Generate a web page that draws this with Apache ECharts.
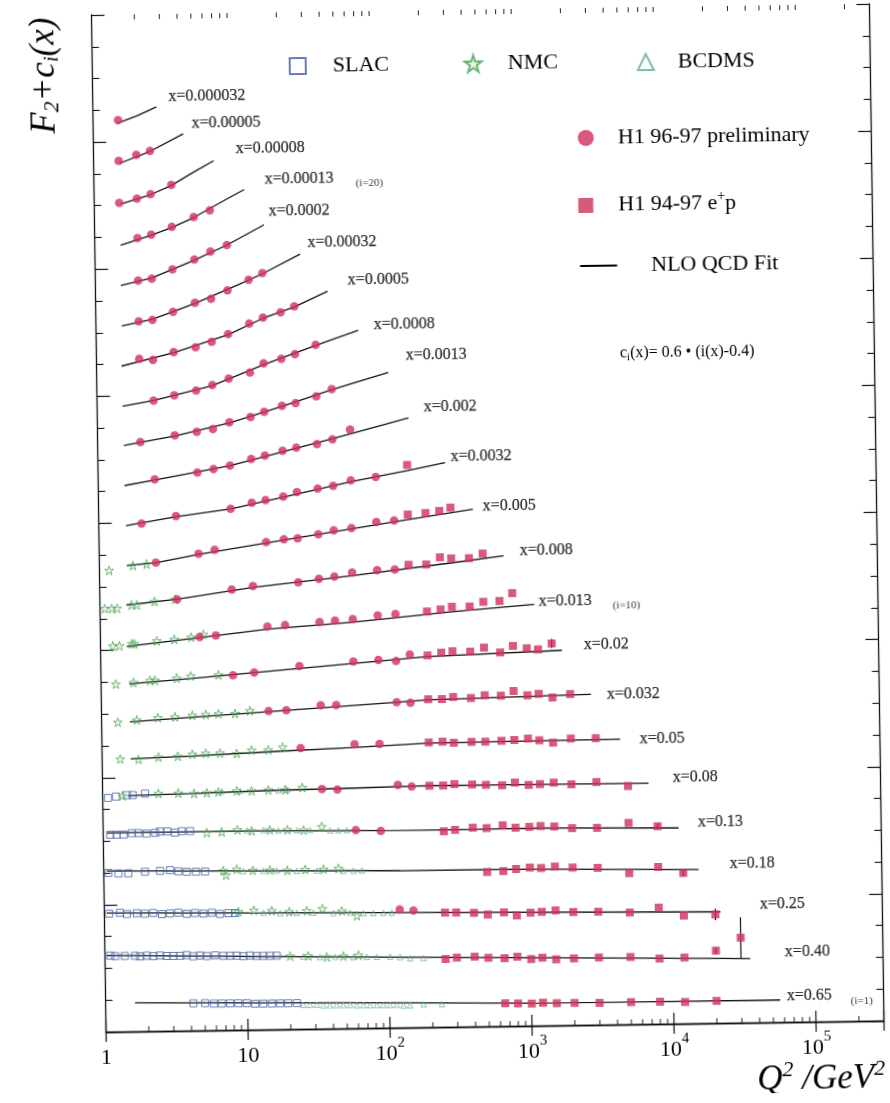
<!DOCTYPE html>
<html><head><meta charset="utf-8">
<script src="https://cdn.jsdelivr.net/npm/echarts@6/dist/echarts.min.js"></script>
<style>
html,body{margin:0;padding:0;background:#fff;overflow:hidden;}
#chart{position:absolute;left:0;top:0;width:890px;height:1103px;transform:rotate(-0.82deg);transform-origin:91.5px 15px;}
</style></head>
<body><div id="chart"></div>
<script>
// bins i = 1..23 (bottom to top)
const binX = ['0.65','0.40','0.25','0.18','0.13','0.08','0.05','0.032','0.02','0.013','0.008','0.005','0.0032','0.002','0.0013','0.0008','0.0005','0.00032','0.0002','0.00013','0.00008','0.00005','0.000032'];
const binLabelAnchor = [[62000,0.41],[60640,1.11],[40850,1.86],[25350,2.51],[15240,3.17],[10260,3.88],[6065,4.49],[3590,5.19],[2500,5.98],[1217,6.68],[905,7.48],[502,8.18],[302,8.97],[197,9.76],[149,10.58],[89.4,11.07],[59.3,11.77],[31.2,12.37],[16.7,12.88],[15.8,13.38],[9.94,13.86],[4.9,14.27],[3.39,14.69]];
const extraLabels = ['(i=1)','(i=10)','(i=20)'];
const extraLabelAnchor = [[174600,0.32],[4035,6.59],[69,13.30]];
const xMajorTicks = [1,10,100,1000,10000,100000];
const xTickText = ['1','10','10{s|2}','10{s|3}','10{s|4}','10{s|5}'];
const xMinorTicks = [2,3,4,5,6,7,8,9,20,30,40,50,60,70,80,90,200,300,400,500,600,700,800,900,2000,3000,4000,5000,6000,7000,8000,9000,20000,30000,40000,50000,60000,70000,80000,90000,200000];

// NLO QCD fit curves: [i, Q2, F2+c_i]
const nloFit = [
[23,1.48,14.29],[23,2.03,14.40],[23,2.8,14.54],
[22,1.52,13.66],[22,2.5,13.84],[22,4.3,14.11],
[21,1.54,13.02],[21,2.5,13.16],[21,3.5,13.30],[21,5,13.50],[21,7,13.68],
[20,1.52,12.37],[20,2.5,12.52],[20,3.5,12.64],[20,5,12.79],[20,8.5,13.07],[20,11.4,13.22],
[19,1.51,11.74],[19,2.5,11.85],[19,5,12.12],[19,8.5,12.35],[19,15.6,12.66],
[18,1.52,11.10],[18,2.5,11.20],[18,5,11.44],[18,10,11.72],[18,15,11.89],[18,27.8,12.19],
[17,1.5,10.47],[17,3.5,10.67],[17,8.5,10.94],[17,15,11.19],[17,25,11.36],[17,43,11.60],
[16,1.51,9.84],[16,2.5,9.92],[16,6.5,10.14],[16,15,10.46],[16,35,10.75],[16,70,10.98],
[15,1.53,9.22],[15,3.5,9.36],[15,8.5,9.55],[15,20,9.80],[15,45,10.05],[15,113,10.31],
[14,1.53,8.59],[14,2.5,8.67],[14,8.5,8.88],[14,25,9.14],[14,60,9.35],[14,155,9.59],
[13,1.55,7.96],[13,3.5,8.09],[13,8.5,8.20],[13,20,8.37],[13,60,8.60],[13,150,8.76],[13,278,8.88],
[12,1.56,7.33],[12,2.5,7.37],[12,5,7.49],[12,25,7.73],[12,120,7.96],[12,431,8.14],
[11,1.54,6.71],[11,3.5,6.79],[11,12,6.96],[11,60,7.12],[11,300,7.30],[11,701,7.40],
[10,1.53,6.06],[10,5,6.18],[10,15,6.30],[10,60,6.39],[10,300,6.53],[10,1140,6.63],
[9,1.58,5.47],[9,4.3,5.54],[9,12,5.62],[9,60,5.74],[9,200,5.83],[9,1767,5.90],
[8,1.58,4.87],[8,4.4,4.93],[8,15,5.00],[8,60,5.08],[8,200,5.15],[8,2800,5.20],
[7,1.59,4.29],[7,4.4,4.32],[7,15,4.37],[7,60,4.42],[7,200,4.47],[7,4455,4.49],
[6,1.5,3.71],[6,4.4,3.73],[6,15,3.76],[6,60,3.78],[6,200,3.80],[6,6980,3.79],
[5,1.06,3.13],[5,10.8,3.13],[5,89,3.105],[5,235,3.10],[5,1192,3.11],[5,11240,3.08],
[4,1.05,2.53],[4,10.7,2.50],[4,122,2.47],[4,1000,2.465],[4,15400,2.42],
[3,1.04,1.87],[3,10.6,1.84],[3,121,1.81],[3,21700,1.75],
[2,1.03,1.20],[2,23.6,1.14],[2,605,1.08],[2,34800,1.01],
[1,1.61,0.45],[1,118,0.39],[1,1000,0.355],[1,56100,0.35]
];

// H1 96-97 preliminary: [i, Q2, value]
const h1Prelim = [
[23,1.5,14.34],
[22,1.5,13.70],[22,2,13.79],[22,2.5,13.85],
[21,1.5,13.04],[21,2,13.10],[21,2.5,13.17],[21,3.5,13.31],
[20,2,12.48],[20,2.5,12.53],[20,3.5,12.65],[20,5,12.80],[20,6.5,12.90],
[19,2,11.81],[19,2.5,11.84],[19,3.5,11.98],[19,5,12.13],[19,6.5,12.25],[19,8.5,12.35],
[18,2,11.17],[18,2.5,11.19],[18,3.5,11.31],[18,5,11.45],[18,6.5,11.51],[18,8.5,11.64],[18,12,11.80],[18,15,11.90],
[17,2,10.58],[17,2.5,10.56],[17,3.5,10.68],[17,5,10.75],[17,6.5,10.83],[17,8.5,10.95],[17,12,11.11],[17,15,11.20],[17,20,11.28],[17,25,11.37],
[16,2.5,9.92],[16,3.5,10.00],[16,5,10.07],[16,6.5,10.15],[16,8.5,10.25],[16,12,10.34],[16,15,10.48],[16,20,10.55],[16,25,10.62],[16,35,10.76],
[15,2,9.27],[15,3.5,9.37],[15,5,9.42],[15,6.5,9.46],[15,8.5,9.56],[15,12,9.64],[15,15,9.72],[15,20,9.81],[15,25,9.85],[15,35,9.95],[15,45,10.06],
[14,2.5,8.68],[14,5,8.78],[14,6.5,8.83],[14,8.5,8.88],[14,12,8.98],[14,15,9.03],[14,20,9.10],[14,25,9.15],[14,35,9.20],[14,45,9.27],[14,60,9.42],
[13,2,7.99],[13,3.5,8.10],[13,8.5,8.20],[13,12,8.29],[13,15,8.33],[13,20,8.38],[13,25,8.45],[13,35,8.50],[13,45,8.54],[13,60,8.62],[13,90,8.67],
[12,2.5,7.37],[12,5,7.50],[12,6.5,7.56],[12,15,7.67],[12,20,7.71],[12,25,7.72],[12,35,7.78],[12,45,7.84],[12,60,7.87],[12,90,7.96],[12,120,7.98],
[11,3.5,6.79],[11,8.5,6.93],[11,12,6.98],[11,25,7.03],[11,35,7.08],[11,45,7.11],[11,60,7.17],[11,90,7.20],[11,120,7.21],
[10,5,6.19],[10,6.5,6.21],[10,15,6.34],[10,20,6.36],[10,35,6.40],[10,45,6.42],[10,60,6.44],[10,90,6.49],[10,120,6.51],
[9,8.5,5.58],[9,12,5.62],[9,25,5.71],[9,60,5.77],[9,90,5.79],[9,120,5.77],[9,150,5.87],
[8,15,5.01],[8,20,5.02],[8,35,5.09],[8,45,5.09],[8,120,5.12],[8,150,5.11],
[7,25,4.42],[7,60,4.47],[7,90,4.47],
[6,35,3.77],[6,45,3.76],[6,120,3.82],[6,150,3.79],
[5,60,3.12],[5,90,3.10],
[3,120,1.86],[3,150,1.84]
];

// H1 94-97 e+p: [i, Q2, value]
const h1Ep = [
[13,150,8.85],
[12,150,8.07],[12,200,8.09],[12,250,8.12],[12,300,8.17],
[11,150,7.28],[11,200,7.28],[11,250,7.39],[11,300,7.37],[11,400,7.37],[11,500,7.44],
[10,200,6.54],[10,250,6.57],[10,300,6.61],[10,400,6.61],[10,500,6.68],[10,650,6.69],[10,800,6.81],
[9,200,5.85],[9,250,5.89],[9,300,5.91],[9,400,5.90],[9,500,5.96],[9,650,5.88],[9,800,5.98],[9,1000,5.94],[9,1200,5.92],[9,1500,6.01],
[8,200,5.16],[8,250,5.16],[8,300,5.19],[8,400,5.17],[8,500,5.21],[8,650,5.20],[8,800,5.27],[8,1000,5.20],[8,1200,5.22],[8,1500,5.16],[8,2000,5.21],
[7,200,4.48],[7,250,4.49],[7,300,4.47],[7,400,4.48],[7,500,4.48],[7,650,4.49],[7,800,4.50],[7,1000,4.52],[7,1200,4.49],[7,1500,4.45],[7,2000,4.51],[7,3000,4.51],
[6,200,3.80],[6,250,3.80],[6,300,3.82],[6,400,3.81],[6,500,3.80],[6,650,3.79],[6,800,3.83],[6,1000,3.79],[6,1200,3.80],[6,1500,3.82],[6,2000,3.79],[6,3000,3.82],[6,5000,3.75],
[5,250,3.08],[5,300,3.10],[5,400,3.13],[5,500,3.12],[5,650,3.16],[5,800,3.12],[5,1000,3.13],[5,1200,3.14],[5,1500,3.13],[5,2000,3.10],[5,3000,3.10],[5,5000,3.17],[5,8000,3.11],
[4,500,2.43],[4,650,2.44],[4,800,2.47],[4,1000,2.49],[4,1200,2.48],[4,1500,2.50],[4,2000,2.48],[4,3000,2.47],[4,5000,2.38],[4,8000,2.47],[4,12000,2.37],
[3,250,1.80],[3,300,1.80],[3,400,1.79],[3,500,1.76],[3,650,1.79],[3,800,1.74],[3,1000,1.78],[3,1200,1.79],[3,1500,1.81],[3,2000,1.78],[3,3000,1.78],[3,5000,1.76],[3,8000,1.83],[3,12000,1.70],[3,20000,1.71],
[2,250,1.07],[2,300,1.09],[2,400,1.10],[2,500,1.08],[2,650,1.07],[2,800,1.09],[2,1000,1.05],[2,1200,1.07],[2,1500,1.04],[2,2000,1.05],[2,3000,1.06],[2,5000,1.06],[2,8000,1.03],[2,12000,1.04],[2,20000,1.14],[2,30000,1.34],
[1,650,0.36],[1,800,0.355],[1,1000,0.35],[1,1200,0.36],[1,1500,0.35],[1,2000,0.35],[1,3000,0.345],[1,5000,0.35],[1,8000,0.35],[1,12000,0.34],[1,20000,0.35]
];

// visible error bars: [Q2, value, error]
const errBars = [[1500,6.01,0.07],[8000,3.11,0.04],[12000,2.37,0.05],[20000,1.71,0.09],[20000,1.14,0.05],[30000,1.34,0.32]];

// SLAC: [i, Q2, value]
const slac = [
[6,1.09,3.68],[6,1.24,3.70],[6,1.48,3.72],[6,1.63,3.72],[6,1.99,3.74],
[5,1.12,3.10],[5,1.24,3.10],[5,1.39,3.10],[5,1.59,3.12],[5,1.77,3.12],[5,2.02,3.11],[5,2.32,3.12],[5,2.51,3.14],[5,2.83,3.14],[5,3.2,3.12],[5,3.57,3.14],[5,4.09,3.14],
[4,1.08,2.50],[4,1.27,2.49],[4,1.49,2.49],[4,1.95,2.51],[4,2.49,2.52],[4,2.93,2.53],[4,3.35,2.51],[4,3.84,2.50],[4,4.46,2.50],[4,5.17,2.50],
[3,1.08,1.86],[3,1.29,1.87],[3,1.44,1.85],[3,1.69,1.86],[3,1.93,1.85],[3,2.21,1.86],[3,2.54,1.84],[3,2.9,1.85],[3,3.32,1.86],[3,3.8,1.84],[3,4.35,1.85],[3,4.98,1.84],[3,5.7,1.85],[3,6.53,1.83],[3,7.47,1.84],[3,8.32,1.84],
[2,1.09,1.20],[2,1.18,1.19],[2,1.38,1.19],[2,1.63,1.19],[2,1.77,1.18],[2,1.97,1.19],[2,2.19,1.18],[2,2.44,1.19],[2,2.72,1.18],[2,3.03,1.18],[2,3.38,1.18],[2,3.76,1.19],[2,4.19,1.17],[2,4.67,1.18],[2,5.21,1.17],[2,5.96,1.18],[2,6.81,1.17],[2,7.6,1.17],[2,8.47,1.17],[2,9.42,1.16],[2,10.5,1.17],[2,11.7,1.16],[2,13,1.16],[2,14.5,1.16],[2,16.2,1.16],
[1,4.15,0.43],[1,5.01,0.43],[1,5.79,0.42],[1,6.57,0.42],[1,7.52,0.42],[1,8.6,0.42],[1,9.86,0.42],[1,11.3,0.41],[1,12.9,0.41],[1,14.8,0.41],[1,16.9,0.41],[1,19.3,0.41],[1,22.2,0.41]
];

// NMC: [i, Q2, value]
const nmc = [
[12,1.17,7.26],[12,1.72,7.33],[12,2.15,7.35],
[11,1.08,6.66],[11,1.21,6.66],[11,1.32,6.66],[11,1.67,6.71],[11,1.82,6.71],[11,2.42,6.76],[11,3.38,6.79],
[10,1.22,6.07],[10,1.36,6.07],[10,1.66,6.10],[10,1.73,6.10],[10,2.49,6.14],[10,3.31,6.16],[10,4.35,6.19],[10,5.31,6.23],
[9,1.27,5.47],[9,1.69,5.49],[9,2.21,5.52],[9,2.4,5.52],[9,3.41,5.55],[9,4.29,5.58],[9,6.71,5.59],
[8,1.3,4.87],[8,1.77,4.90],[8,2.49,4.93],[8,3.29,4.94],[8,4.36,4.96],[8,5.42,4.97],[8,6.65,4.98],[8,8.71,4.98],[8,11.1,5.02],
[7,1.34,4.29],[7,1.8,4.28],[7,2.49,4.31],[7,3.41,4.32],[7,4.32,4.35],[7,5.37,4.36],[7,6.77,4.36],[7,8.87,4.35],[7,11.3,4.40],[7,14.8,4.40],[7,18.7,4.44],
[6,1.38,3.71],[6,2.47,3.74],[6,3.41,3.74],[6,4.4,3.73],[6,5.41,3.74],[6,6.53,3.75],[6,8.8,3.76],[6,11.2,3.76],[6,14.7,3.77],[6,19.3,3.77],[6,25.5,3.80],
[5,5.36,3.11],[5,6.83,3.12],[5,8.8,3.15],[5,11.1,3.13],[5,14.9,3.14],[5,19.8,3.14],[5,25.7,3.13],[5,34.6,3.18],
[4,6.95,2.51],[4,7.26,2.44],[4,8.64,2.53],[4,11.2,2.51],[4,14.8,2.51],[4,19.6,2.50],[4,26.2,2.51],[4,35.3,2.51],[4,44.9,2.52],
[3,8.78,1.86],[3,11.3,1.88],[3,15.1,1.87],[3,20,1.85],[3,26.6,1.86],[3,34.3,1.89],[3,47,1.85],[3,59.9,1.77],
[2,20.1,1.15],[2,27,1.15],[2,36.5,1.13],[2,47.7,1.14],[2,61,1.15]
];

// BCDMS: [i, Q2, value]
const bcdms = [
[6,6.9,3.76],[6,9.28,3.76],[6,17.3,3.76],[6,19.9,3.77],
[5,10.3,3.14],[5,13.4,3.14],[5,17.1,3.13],[5,23.1,3.13],[5,28.6,3.13],[5,39.6,3.12],[5,45.3,3.12],[5,51.9,3.12],
[4,9.6,2.50],[4,13.3,2.50],[4,16.5,2.50],[4,22.9,2.49],[4,31.7,2.49],[4,48.7,2.48],[4,57.3,2.48],[4,65.6,2.48],
[3,13.2,1.84],[3,17.3,1.83],[3,22.6,1.83],[3,29.6,1.83],[3,41,1.82],[3,53.7,1.82],[3,66.7,1.81],[3,78.4,1.81],[3,92.2,1.81],[3,105.6,1.81],
[2,24.9,1.14],[2,32.7,1.13],[2,41.7,1.13],[2,56.1,1.12],[2,69.7,1.12],[2,82,1.12],[2,101.7,1.12],[2,119.6,1.11],[2,140.7,1.09],[2,174.6,1.09],
[1,24.7,0.38],[1,27.5,0.38],[1,30.7,0.38],[1,34.1,0.37],[1,38,0.37],[1,42.4,0.37],[1,47.2,0.37],[1,52.6,0.37],[1,58.7,0.36],[1,65.3,0.36],[1,72.8,0.36],[1,81.2,0.36],[1,90.3,0.36],[1,100.6,0.36],[1,112,0.36],[1,125,0.35],[1,139,0.35],[1,173,0.36],[1,233,0.36]
];

const SERIF = '"Liberation Serif", "Times New Roman", serif';
const RED = '#d0305b';
const STAR = 'path://M50,2 L61,37 L97,37 L68,59 L79,94 L50,73 L21,94 L32,59 L3,37 L39,37 Z';
const xy = arr => arr.map(r => [r[1], r[2]]);

const series = [];
for (let i = 1; i <= binX.length; i++) {
  series.push({
    type: 'line', name: 'NLO QCD Fit', z: 2, silent: true,
    data: nloFit.filter(r => r[0] === i).map(r => [r[1], r[2]]),
    symbol: 'none', showSymbol: false, smooth: false,
    lineStyle: { color: '#111', width: 1.3 }, itemStyle: { color: '#111' }
  });
}
series.push(
  { type: 'scatter', name: 'SLAC', z: 3, data: xy(slac), symbol: 'rect', symbolSize: 7,
    itemStyle: { color: 'rgba(255,255,255,0)', borderColor: '#3d5fa6', borderWidth: 1 } },
  { type: 'scatter', name: 'BCDMS', z: 3, data: xy(bcdms), symbol: 'triangle', symbolSize: 5.5,
    itemStyle: { color: 'rgba(255,255,255,0)', borderColor: '#5fae93', borderWidth: 0.9 } },
  { type: 'scatter', name: 'NMC', z: 4, data: xy(nmc), symbol: STAR, symbolSize: 9,
    itemStyle: { color: 'rgba(90,180,90,0.15)', borderColor: '#43a24e', borderWidth: 0.9 } },
  { type: 'scatter', name: 'H1 96-97 preliminary', z: 5, data: xy(h1Prelim), symbol: 'circle', symbolSize: 8.5,
    itemStyle: { color: RED } },
  { type: 'scatter', name: 'H1 94-97 e+p', z: 5, data: xy(h1Ep), symbol: 'rect', symbolSize: 8,
    itemStyle: { color: RED } },
  { type: 'custom', name: 'errors', z: 4, silent: true, data: errBars,
    renderItem: (params, api) => {
      const a = api.coord([api.value(0), api.value(1) - api.value(2)]);
      const b = api.coord([api.value(0), api.value(1) + api.value(2)]);
      return { type: 'line', shape: { x1: a[0], y1: a[1], x2: b[0], y2: b[1] }, style: { stroke: '#111', lineWidth: 1.2 } };
    } },
  { type: 'custom', name: 'minorTicks', z: 6, silent: true, data: xMinorTicks.map(q => [q, 0]),
    renderItem: (params, api) => {
      const q = api.value(0);
      const pb = api.coord([q, 0]);
      const pt = api.coord([q, 16]);
      return { type: 'group', children: [
        { type: 'line', shape: { x1: pb[0], y1: pb[1], x2: pb[0], y2: pb[1] - 5 }, style: { stroke: '#222', lineWidth: 1 } },
        { type: 'line', shape: { x1: pt[0], y1: pt[1], x2: pt[0], y2: pt[1] + 5 }, style: { stroke: '#222', lineWidth: 1 } }
      ] };
    } },
  { type: 'scatter', name: 'binLabels', z: 7, silent: true, symbolSize: 1,
    itemStyle: { color: 'rgba(0,0,0,0)' },
    data: binLabelAnchor.map((a, k) => ({ name: 'x=' + binX[k], value: a })),
    label: { show: true, position: 'right', distance: 0, formatter: p => p.name,
      fontFamily: SERIF, fontSize: 16, color: '#000', textBorderColor: '#000', textBorderWidth: 0.25 } },
  { type: 'scatter', name: 'indexLabels', z: 7, silent: true, symbolSize: 1,
    itemStyle: { color: 'rgba(0,0,0,0)' },
    data: extraLabelAnchor.map((a, k) => ({ name: extraLabels[k], value: a })),
    label: { show: true, position: 'right', distance: 0, formatter: p => p.name,
      fontFamily: SERIF, fontSize: 11, color: '#000' } }
);

const legendText = { fontFamily: SERIF, fontSize: 22, color: '#000',
  rich: { sup: { fontFamily: SERIF, fontSize: 14, color: '#000', padding: [0, 0, 14, 0] } } };
function lg(name, left, top, w, h, pad, extra) {
  return Object.assign({ data: [name], left: left, top: top, itemWidth: w, itemHeight: h, selectedMode: false,
    padding: 0, formatter: n => n === 'H1 94-97 e+p' ? 'H1 94-97 e{sup|+}p' : n,
    textStyle: Object.assign({}, legendText, { padding: [0, 0, 0, pad] }) }, extra || {});
}

const axisCommon = { type: 'log', min: 1, max: 300000, logBase: 10 };
const option = {
  animation: false,
  textStyle: { fontFamily: SERIF },
  grid: { left: 91.5, top: 15, width: 778, height: 1017, containLabel: false },
  legend: [
    lg('SLAC', 288, 58, 16, 16, 22),
    lg('NMC', 463, 58, 17, 17, 21),
    lg('BCDMS', 636, 59, 16, 16, 19),
    lg('H1 96-97 preliminary', 576, 134, 16, 16, 19),
    lg('H1 94-97 e+p', 575.5, 198.5, 15, 15, 20),
    lg('NLO QCD Fit', 576.5, 262, 37, 14, 29, {
      data: [{ name: 'NLO QCD Fit', icon: 'path://M0,6.1 L37,6.1 L37,7.9 L0,7.9 Z', itemStyle: { color: '#000' } }] })
  ],
  xAxis: [
    Object.assign({}, axisCommon, {
      position: 'bottom',
      axisLine: { show: true, lineStyle: { color: '#111', width: 1.3 } },
      axisTick: { show: true, inside: true, length: 11, lineStyle: { color: '#111', width: 1.2 } },
      splitLine: { show: false },
      axisLabel: { show: true, margin: 8, fontFamily: SERIF, fontSize: 22, color: '#000', lineHeight: 37,
        formatter: v => { const k = xMajorTicks.findIndex(t => Math.abs(t - v) / t < 1e-6); return k < 0 ? '' : xTickText[k]; },
        rich: { s: { fontFamily: SERIF, fontSize: 15, lineHeight: 15, color: '#000', padding: [0, 0, 22, 0] } } }
    }),
    Object.assign({}, axisCommon, {
      position: 'top',
      axisLine: { show: true, lineStyle: { color: '#111', width: 1.3 } },
      axisTick: { show: true, inside: true, length: 10, lineStyle: { color: '#111', width: 1.2 } },
      splitLine: { show: false }, axisLabel: { show: false }
    })
  ],
  yAxis: [
    { type: 'value', position: 'left', min: 0, max: 16, interval: 2,
      axisLine: { show: true, lineStyle: { color: '#111', width: 1.3 } },
      axisTick: { show: true, inside: true, length: 13, lineStyle: { color: '#111', width: 1.2 } },
      minorTick: { show: true, splitNumber: 4, length: 7, lineStyle: { color: '#111', width: 1.1 } },
      splitLine: { show: false }, minorSplitLine: { show: false }, axisLabel: { show: false } },
    { type: 'value', position: 'right', min: 0, max: 16, interval: 2,
      axisLine: { show: true, lineStyle: { color: '#111', width: 1.3 } },
      axisTick: { show: true, inside: true, length: 13, lineStyle: { color: '#111', width: 1.2 } },
      minorTick: { show: true, splitNumber: 4, length: 7, lineStyle: { color: '#111', width: 1.1 } },
      splitLine: { show: false }, minorSplitLine: { show: false }, axisLabel: { show: false } }
  ],
  graphic: [
    { type: 'text', x: 44, y: 75, rotation: Math.PI / 2, silent: true,
      style: { text: 'F{sub|2}+c{subi|i}(x)', fontFamily: SERIF, fontStyle: 'italic', fontSize: 35, fill: '#000',
        align: 'center', verticalAlign: 'middle',
        rich: { sub: { fontFamily: SERIF, fontStyle: 'italic', fontSize: 22, fill: '#000', padding: [15, 0, 0, 0] },
                subi: { fontFamily: SERIF, fontStyle: 'italic', fontSize: 21, fill: '#000', padding: [15, 0, 0, 0] } } } },
    { type: 'text', x: 870, y: 1090, silent: true,
      style: { text: 'Q{sup|2} /GeV{sup|2}', fontFamily: SERIF, fontStyle: 'italic', fontSize: 35, fill: '#000',
        align: 'right', verticalAlign: 'middle',
        rich: { sup: { fontFamily: SERIF, fontStyle: 'italic', fontSize: 22, fill: '#000', padding: [0, 0, 20, 0] } } } },
    { type: 'text', x: 615, y: 361, silent: true,
      style: { text: 'c{s|i}(x)= 0.6 \u2022 (i(x)-0.4)', fontFamily: SERIF, fontSize: 16, fill: '#000',
        align: 'left', verticalAlign: 'middle',
        rich: { s: { fontFamily: SERIF, fontSize: 11, fill: '#000', padding: [8, 0, 0, 0] } } } }
  ],
  series: series
};

const chart = echarts.init(document.getElementById('chart'), null, { renderer: 'canvas' });
chart.setOption(option);
</script>
</body></html>
